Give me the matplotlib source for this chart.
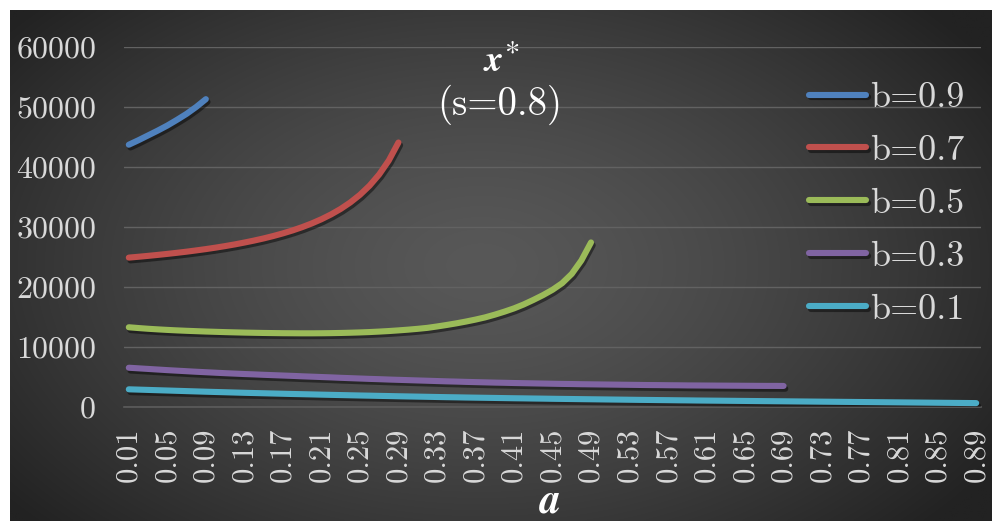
import matplotlib
matplotlib.use("Agg")
import matplotlib.pyplot as plt
import matplotlib.patheffects as pe
import numpy as np

plt.rcParams['axes.formatter.use_mathtext'] = True

categories = ["0.01","0.02","0.03","0.04","0.05","0.06","0.07","0.08","0.09","0.10",
              "0.11","0.12","0.13","0.14","0.15","0.16","0.17","0.18","0.19","0.20",
              "0.21","0.22","0.23","0.24","0.25","0.26","0.27","0.28","0.29","0.30",
              "0.31","0.32","0.33","0.34","0.35","0.36","0.37","0.38","0.39","0.40",
              "0.41","0.42","0.43","0.44","0.45","0.46","0.47","0.48","0.49","0.50",
              "0.51","0.52","0.53","0.54","0.55","0.56","0.57","0.58","0.59","0.60",
              "0.61","0.62","0.63","0.64","0.65","0.66","0.67","0.68","0.69","0.70",
              "0.71","0.72","0.73","0.74","0.75","0.76","0.77","0.78","0.79","0.80",
              "0.81","0.82","0.83","0.84","0.85","0.86","0.87","0.88","0.89"]

b09 = [43700, 44450, 45250, 46050, 46900, 47850, 48850, 50000, 51300]

b07 = [24870, 25010, 25160, 25320, 25490, 25670, 25860, 26070, 26290, 26530,
       26790, 27070, 27380, 27710, 28070, 28470, 28910, 29400, 29950, 30570,
       31270, 32070, 32990, 34070, 35340, 36870, 38740, 41070, 44070]

b05 = [13250, 13120, 13000, 12900, 12810, 12730, 12660, 12600, 12540, 12490,
       12440, 12400, 12360, 12330, 12300, 12280, 12260, 12250, 12240, 12240,
       12250, 12270, 12300, 12340, 12390, 12450, 12530, 12620, 12730, 12850,
       12990, 13150, 13380, 13630, 13900, 14200, 14530, 14900, 15350, 15850,
       16400, 17050, 17800, 18600, 19500, 20600, 22150, 24400, 27400]

b03 = [6500, 6400, 6300, 6200, 6100, 6010, 5920, 5830, 5750, 5670,
       5590, 5520, 5450, 5390, 5320, 5260, 5200, 5140, 5070, 5010,
       4950, 4890, 4820, 4760, 4700, 4640, 4590, 4530, 4480, 4430,
       4380, 4330, 4280, 4230, 4190, 4140, 4100, 4060, 4020, 3990,
       3950, 3920, 3890, 3860, 3830, 3800, 3780, 3750, 3730, 3710,
       3690, 3670, 3650, 3630, 3610, 3600, 3580, 3570, 3550, 3540,
       3530, 3520, 3510, 3500, 3490, 3480, 3470, 3470, 3460]

b01 = [2900, 2850, 2800, 2750, 2700, 2650, 2600, 2550, 2500, 2455,
       2410, 2365, 2320, 2280, 2240, 2200, 2160, 2120, 2085, 2050,
       2010, 1975, 1940, 1905, 1870, 1840, 1805, 1775, 1740, 1710,
       1680, 1650, 1620, 1590, 1565, 1535, 1510, 1485, 1460, 1435,
       1410, 1390, 1365, 1345, 1320, 1300, 1280, 1260, 1240, 1220,
       1200, 1180, 1160, 1140, 1125, 1105, 1090, 1070, 1055, 1035,
       1020, 1005, 990, 975, 960, 945, 930, 915, 900, 885,
       870, 855, 840, 825, 810, 795, 780, 765, 750, 735,
       720, 705, 690, 675, 660, 645, 630, 615, 600]

series_labels = ["b=0.9", "b=0.7", "b=0.5", "b=0.3", "b=0.1"]
series_values = [b09, b07, b05, b03, b01]
series_colors = ["#4F81BD", "#C0504D", "#9BBB59", "#8064A2", "#4BACC6"]
y_ticks = [0, 10000, 20000, 30000, 40000, 50000, 60000]

W, H = 995, 523
fig = plt.figure(figsize=(W / 100, H / 100), dpi=100)
fig.patch.set_facecolor("white")

# dark radial-gradient panel
bg = fig.add_axes([10 / W, 1 - 521 / H, 982 / W, 511 / H])
bg.set_axis_off()
gx, gy = np.meshgrid(np.linspace(0, 1, 400), np.linspace(0, 1, 220))
r = np.sqrt(((gx - 0.48) / 0.62) ** 2 + ((gy - 0.50) / 0.75) ** 2)
r = np.clip(r, 0, 1)
c_in, c_out = 88 / 255, 34 / 255
val = c_in + (c_out - c_in) * r ** 1.4
img = np.dstack([val, val, val])
bg.imshow(img, aspect="auto", extent=[0, 1, 0, 1], interpolation="bilinear")
bg.set_xlim(0, 1)
bg.set_ylim(0, 1)

ax = fig.add_axes([124 / W, 1 - 406.7 / H, (981 - 124) / W, (406.7 - 47) / H])
ax.patch.set_alpha(0)
x_all = np.arange(len(categories))
shadow = [pe.SimpleLineShadow(offset=(1.2, -2.0), shadow_color="black", alpha=0.45),
          pe.Normal()]
for lab, vals, col in zip(series_labels, series_values, series_colors):
    ax.plot(x_all[:len(vals)], vals, color=col, lw=4.4, solid_capstyle="round",
            label=lab, path_effects=shadow, zorder=3)

ax.set_xlim(-0.5, len(categories) - 0.5)
ax.set_ylim(0, 60000)
ax.set_yticks(y_ticks)
ax.set_yticklabels([str(v) for v in y_ticks])
ax.set_xticks(x_all[::4])
ax.set_xticklabels(categories[::4], rotation=90)
for s in ["top", "right", "left"]:
    ax.spines[s].set_visible(False)
ax.spines["bottom"].set_color("#5c5c5c")
ax.spines["bottom"].set_linewidth(1.2)
ax.yaxis.grid(True, color="#626262", lw=1.0)
ax.set_axisbelow(True)
ax.tick_params(axis="both", length=0, colors="#d9d9d9")
ax.tick_params(axis="y", pad=20)
ax.tick_params(axis="x", pad=15)
for t in ax.get_yticklabels():
    t.set_fontfamily("cmr10")
    t.set_fontsize(23)
    t.set_color("#d9d9d9")
for t in ax.get_xticklabels():
    t.set_fontfamily("cmr10")
    t.set_fontsize(22)
    t.set_color("#d9d9d9")

# title
fig.text(494 / W, 1 - 62 / H, "x", family="STIXGeneral", weight="bold", style="italic",
         fontsize=26, color="white", ha="center", va="center")
fig.text(513 / W, 1 - 54 / H, "*", family="STIXGeneral", fontsize=22, color="white",
         ha="center", va="center")
fig.text(500 / W, 1 - 105 / H, "(s=0.8)", family="cmr10", fontsize=28, color="white",
         ha="center", va="center")

# axis label
fig.text(550 / W, 1 - 502 / H, "a", family="STIXGeneral", weight="bold", style="italic",
         fontsize=30, color="white", ha="center", va="center")

leg = ax.legend(loc="upper right", bbox_to_anchor=(964 / W, 1 - 82 / H),
                bbox_transform=fig.transFigure, frameon=False,
                prop={"family": "cmr10", "size": 26}, handlelength=1.58,
                handletextpad=0.1, labelspacing=0.57, borderpad=0, borderaxespad=0)
for t in leg.get_texts():
    t.set_color("#d9d9d9")
for l in leg.get_lines():
    l.set_linewidth(4.4)
    l.set_solid_capstyle("round")

fig.savefig("out.png", dpi=100, facecolor="white")
